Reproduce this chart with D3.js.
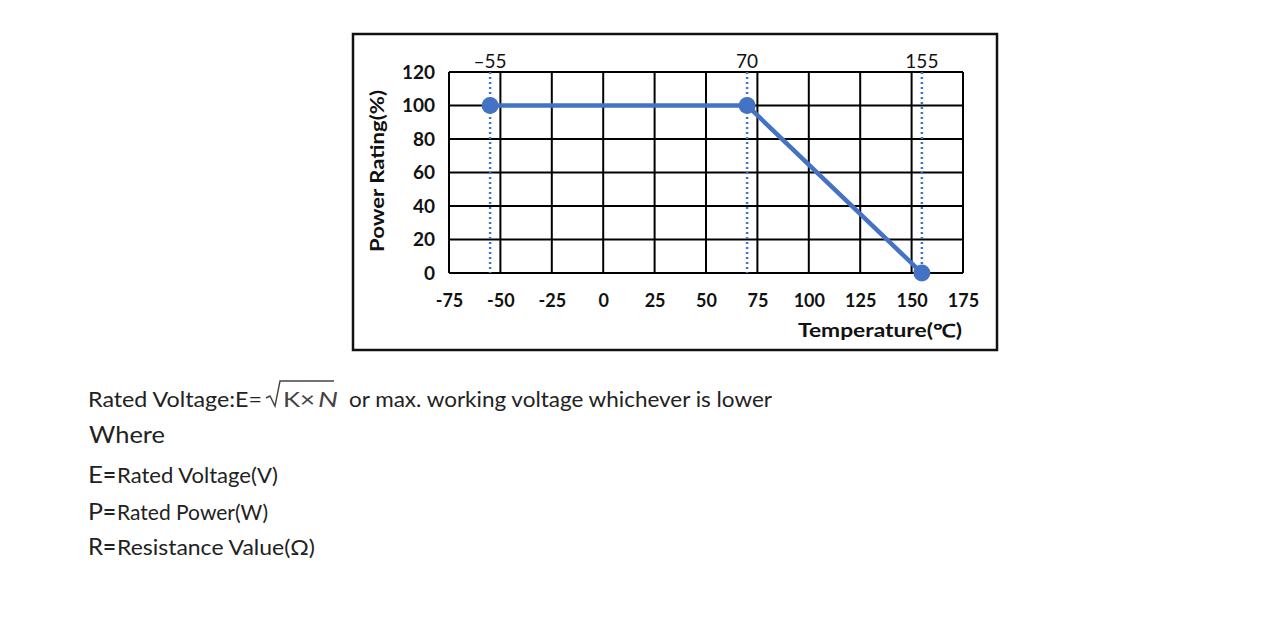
<!DOCTYPE html>
<html>
<head>
<meta charset="utf-8">
<script src="https://cdn.jsdelivr.net/npm/d3@7"></script>
<style>
  body { margin: 0; background: #fff; }
  svg text { font-family: Lato, "Open Sans", sans-serif; }
</style>
</head>
<body>
<svg id="chart" width="1280" height="625"></svg>
<script>
// derating curve
const temperatures = [-55, 70, 155];
const powerRating = [100, 100, 0];
const markerLabels = ['\u201355', '70', '155'];
const xTicks = [-75, -50, -25, 0, 25, 50, 75, 100, 125, 150, 175];
const yTicks = [0, 20, 40, 60, 80, 100, 120];

// notes under the chart: [symbol, text, baseline, right edge]
const notes = [
    ['E', 'Rated Voltage(V)', 483, 278],
    ['P', 'Rated Power(W)', 520, 268],
    ['R', 'Resistance Value(\u03A9)', 555, 315]
];

const blue = '#4472C4';
const ink = '#111';
const svg = d3.select('#chart');

const plot = {left: 449, right: 963, top: 72, bottom: 273};

const x = d3.scaleLinear().domain([-75, 175]).range([plot.left, plot.right]);
const y = d3.scaleLinear().domain([0, 120]).range([plot.bottom, plot.top]);

// fits a text element to a given width
function fit(sel, width) {
    return sel.attr('textLength', width).attr('lengthAdjust', 'spacingAndGlyphs');
}

// outer frame
svg.append('rect')
    .attr('x', 353).attr('y', 34)
    .attr('width', 644).attr('height', 316)
    .attr('fill', 'none')
    .attr('stroke', ink)
    .attr('stroke-width', 2.5);

// grid
const grid = svg.append('g');
grid.selectAll('.vg').data(xTicks).join('line')
    .attr('x1', d => x(d)).attr('x2', d => x(d))
    .attr('y1', plot.top).attr('y2', plot.bottom)
    .attr('stroke', '#000').attr('stroke-width', 2);
grid.selectAll('.hg').data(yTicks).join('line')
    .attr('x1', plot.left).attr('x2', plot.right)
    .attr('y1', d => y(d)).attr('y2', d => y(d))
    .attr('stroke', '#000').attr('stroke-width', 2);

// tick labels
const xAxis = d3.axisBottom(x).tickValues(xTicks).tickFormat(d => String(d)).tickSize(0).tickPadding(0);
const gx = svg.append('g').attr('transform', `translate(0,${plot.bottom + 34})`).call(xAxis);
gx.select('.domain').remove();
gx.selectAll('text')
    .attr('dy', 0)
    .attr('font-size', 18).attr('font-weight', 'bold')
    .attr('font-family', 'Lato, sans-serif')
    .attr('fill', ink);

const yAxis = d3.axisLeft(y).tickValues(yTicks).tickFormat(d => String(d)).tickSize(0).tickPadding(0);
const gy = svg.append('g').attr('transform', `translate(${plot.left - 14},0)`).call(yAxis);
gy.select('.domain').remove();
gy.selectAll('text')
    .attr('font-size', 19).attr('font-weight', 'bold')
    .attr('font-family', 'Lato, sans-serif')
    .attr('fill', ink);

fit(svg.append('text')
    .attr('transform', 'translate(384,171) rotate(-90)')
    .attr('text-anchor', 'middle')
    .attr('font-size', 18).attr('font-weight', 'bold')
    .attr('fill', ink)
    .text('Power Rating(%)'), 162);

fit(svg.append('text')
    .attr('x', 798).attr('y', 337)
    .attr('font-size', 18).attr('font-weight', 'bold')
    .attr('fill', ink)
    .text('Temperature(\u2103)'), 164);

// dotted reference lines and labels
svg.selectAll('.ref').data(temperatures).join('line')
    .attr('x1', d => x(d)).attr('x2', d => x(d))
    .attr('y1', plot.top).attr('y2', plot.bottom)
    .attr('stroke', blue).attr('stroke-width', 2.5)
    .attr('stroke-dasharray', '2,3');

svg.selectAll('.reflabel').data(temperatures).join('text')
    .attr('x', d => x(d)).attr('y', plot.top - 4)
    .attr('text-anchor', 'middle')
    .attr('font-size', 19)
    .attr('fill', ink)
    .text((d, i) => markerLabels[i]);

// curve
const points = temperatures.map((t, i) => [t, powerRating[i]]);
svg.append('path')
    .datum(points)
    .attr('d', d3.line().x(d => x(d[0])).y(d => y(d[1])))
    .attr('fill', 'none')
    .attr('stroke', blue)
    .attr('stroke-width', 4.5);

svg.selectAll('.pt').data(points).join('circle')
    .attr('cx', d => x(d[0])).attr('cy', d => y(d[1]))
    .attr('r', 8.5)
    .attr('fill', blue);

// formula line
const txt = '#222';
fit(svg.append('text').attr('x', 88).attr('y', 407)
    .attr('font-size', 21).attr('fill', txt)
    .text('Rated Voltage:E='), 174);

svg.append('path')
    .attr('d', 'M266,398 L270,396 L275,406 L280,381 L334,381')
    .attr('fill', 'none')
    .attr('stroke', '#444')
    .attr('stroke-width', 1.4);

fit(svg.append('text').attr('x', 283).attr('y', 407)
    .attr('font-size', 22).attr('fill', '#444')
    .text('K\u00D7'), 32);
fit(svg.append('text').attr('x', 318).attr('y', 407)
    .attr('font-size', 22).attr('font-style', 'italic').attr('fill', '#444')
    .text('N'), 20);

fit(svg.append('text').attr('x', 349).attr('y', 407)
    .attr('font-size', 21).attr('fill', txt)
    .text('or max. working voltage whichever is lower'), 423);

fit(svg.append('text').attr('x', 89).attr('y', 443)
    .attr('font-size', 23).attr('fill', txt)
    .text('Where'), 76);

notes.forEach(([sym, label, base, right]) => {
    fit(svg.append('text').attr('x', 88).attr('y', base)
        .attr('font-size', 24).attr('fill', txt)
        .text(sym), 15);
    fit(svg.append('text').attr('x', 103).attr('y', base)
        .attr('font-size', 22).attr('font-weight', 'bold').attr('fill', txt)
        .text('='), 13);
    fit(svg.append('text').attr('x', 117).attr('y', base)
        .attr('font-size', 22).attr('fill', txt)
        .text(label), right - 117);
});
</script>
</body>
</html>
